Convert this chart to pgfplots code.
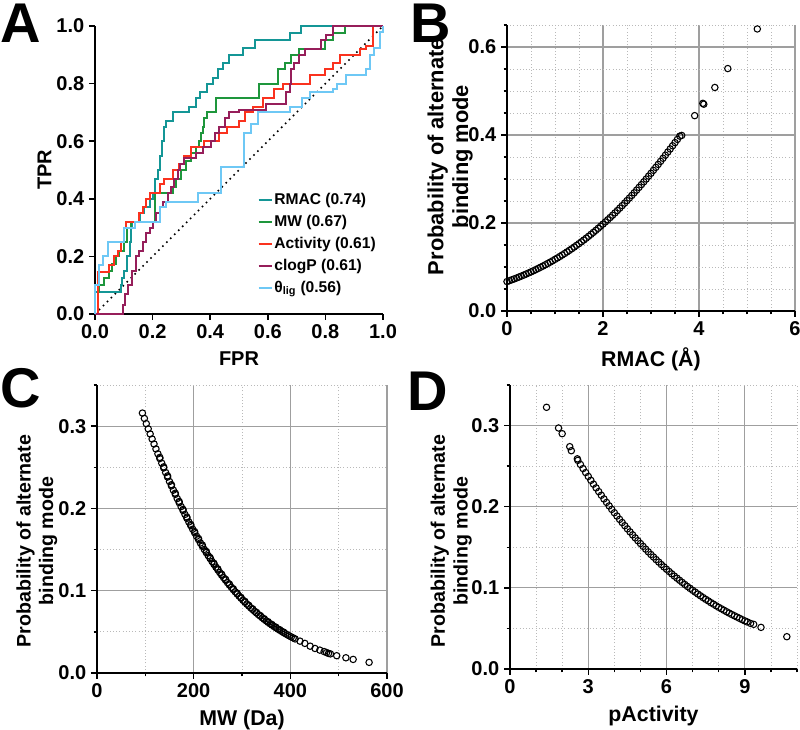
\documentclass[border=0pt]{standalone}
\usepackage{fontspec}
\setmainfont{Liberation Sans}
\usepackage{pgfplots}
\pgfplotsset{compat=1.18}

\definecolor{cRMAC}{RGB}{20,150,150}
\definecolor{cMW}{RGB}{30,150,60}
\definecolor{cAct}{RGB}{250,50,30}
\definecolor{cclogP}{RGB}{150,30,90}
\definecolor{ctheta}{RGB}{110,200,245}

\pgfplotsset{
 myaxis/.style={
  scale only axis,
  axis lines=left,
  axis line style={-, line width=1.4pt},
  tick align=outside,
  major tick length=4.5pt,
  minor tick length=2.5pt,
  every tick/.append style={black, line width=1.1pt},
  tick label style={font=\fontsize{15}{18}\selectfont\bfseries},
  /pgf/number format/assume math mode=true,
  label style={font=\fontsize{16}{19}\selectfont\bfseries},
  clip=false,
 },
 scat/.style={
  myaxis,
  grid=both,
  major grid style={gray!75, line width=0.8pt},
  minor grid style={gray!55, line width=0.6pt, dash pattern=on 0.8pt off 1.6pt},
  ylabel style={align=center, font=\fontsize{14.7}{17}\selectfont\bfseries},
  ylabel={Probability of alternate\\binding mode},
  yticklabel style={/pgf/number format/fixed, /pgf/number format/fixed zerofill, /pgf/number format/precision=1},
  xlabel style={yshift=-2pt},
 },
 dots/.style={only marks, mark=o, mark size=2.4pt, mark options={line width=0.8pt, black}},
 roc/.style={const plot, line width=1.5pt},
}

\begin{document}
\begin{tikzpicture}
\useasboundingbox (0pt,0pt) rectangle (600pt,547.5pt);

% ---------------- Panel A ----------------
\begin{axis}[myaxis, at={(71.25pt,312pt)}, anchor=south west,
  width=216pt, height=216pt,
  xmin=0, xmax=1, ymin=0, ymax=1,
  xtick={0,0.2,0.4,0.6,0.8,1}, ytick={0,0.2,0.4,0.6,0.8,1},
  xticklabel style={/pgf/number format/fixed, /pgf/number format/fixed zerofill, /pgf/number format/precision=1},
  yticklabel style={/pgf/number format/fixed, /pgf/number format/fixed zerofill, /pgf/number format/precision=1},
  label style={font=\fontsize{15}{18}\selectfont\bfseries},
  xlabel={FPR}, ylabel={TPR},
  xlabel style={yshift=-3pt},
  ylabel style={at={(ticklabel cs:0.5,-3pt)}},
  legend cell align=left,
  legend image code/.code={\draw[#1] (0pt,0pt) -- (10pt,0pt);},
  legend style={draw=none, fill=none, at={(rel axis cs:0.55,0.435)}, anchor=north west,
    font=\fontsize{11.7}{14}\selectfont\bfseries, row sep=3.5pt,
    nodes={inner sep=1pt, text height=8.5pt, text depth=2.5pt}},
]
\addplot[black, line width=1.2pt, dash pattern=on 1.2pt off 3pt, forget plot] coordinates {(0,0) (1,1)};
\addplot[roc, cRMAC] coordinates {
(0,0) (0,0.075) (0.09,0.1) (0.095,0.125) (0.10,0.15) (0.11,0.2) (0.12,0.25) (0.125,0.3) (0.13,0.32)
(0.155,0.35) (0.17,0.37) (0.19,0.4) (0.2,0.42) (0.21,0.47) (0.22,0.5) (0.225,0.55) (0.233,0.6)
(0.24,0.65) (0.247,0.67) (0.27,0.7) (0.328,0.72) (0.35,0.75) (0.363,0.77) (0.39,0.8) (0.41,0.82)
(0.426,0.85) (0.444,0.87) (0.467,0.9) (0.513,0.925) (0.554,0.95) (0.676,0.975) (0.716,1.0) (1,1)};
\addlegendentry{RMAC (0.74)}
\addplot[roc, cMW] coordinates {
(0,0) (0.01,0.075) (0.015,0.1) (0.03,0.125) (0.05,0.15) (0.06,0.175) (0.073,0.2) (0.085,0.22)
(0.1,0.25) (0.11,0.3) (0.125,0.32) (0.21,0.42) (0.27,0.44) (0.28,0.47) (0.3,0.5) (0.316,0.53)
(0.334,0.56) (0.35,0.58) (0.36,0.6) (0.367,0.63) (0.374,0.65) (0.38,0.68) (0.39,0.7) (0.42,0.75)
(0.571,0.8) (0.635,0.85) (0.658,0.87) (0.68,0.9) (0.71,0.92) (0.797,0.95) (0.826,0.975) (0.867,1.0) (1,1)};
\addlegendentry{MW (0.67)}
\addplot[roc, cAct] coordinates {
(0,0) (0.01,0.145) (0.05,0.17) (0.067,0.2) (0.08,0.22) (0.09,0.25) (0.1,0.3) (0.108,0.32)
(0.154,0.35) (0.166,0.37) (0.177,0.4) (0.19,0.42) (0.224,0.45) (0.24,0.47) (0.27,0.5) (0.29,0.52)
(0.31,0.55) (0.334,0.58) (0.38,0.6) (0.432,0.63) (0.46,0.65) (0.5,0.67) (0.52,0.7) (0.55,0.72)
(0.583,0.75) (0.62,0.78) (0.652,0.8) (0.745,0.83) (0.8,0.85) (0.826,0.87) (0.85,0.9) (0.92,0.92)
(0.94,0.93) (0.965,1.0) (1,1)};
\addlegendentry{Activity (0.61)}
\addplot[roc, cclogP] coordinates {
(0,0) (0.096,0.03) (0.105,0.07) (0.114,0.1) (0.13,0.15) (0.142,0.2) (0.154,0.22) (0.166,0.25)
(0.177,0.28) (0.19,0.3) (0.2,0.32) (0.212,0.35) (0.224,0.37) (0.235,0.39) (0.253,0.42) (0.264,0.44)
(0.276,0.47) (0.287,0.5) (0.295,0.52) (0.31,0.54) (0.35,0.56) (0.374,0.58) (0.403,0.6) (0.415,0.63)
(0.432,0.65) (0.45,0.68) (0.467,0.7) (0.5,0.71) (0.594,0.73) (0.664,0.77) (0.676,0.8) (0.68,0.85)
(0.69,0.87) (0.71,0.9) (0.728,0.92) (0.786,0.95) (0.803,0.97) (0.826,1.0) (1,1)};
\addlegendentry{clogP (0.61)}
\addplot[roc, ctheta] coordinates {
(0,0) (0,0.1) (0.015,0.17) (0.027,0.2) (0.044,0.25) (0.102,0.3) (0.14,0.32) (0.224,0.37)
(0.247,0.39) (0.357,0.42) (0.438,0.51) (0.519,0.63) (0.54,0.66) (0.565,0.7) (0.676,0.72)
(0.72,0.75) (0.745,0.77) (0.826,0.78) (0.84,0.8) (0.872,0.83) (0.942,0.85) (0.955,0.9)
(0.97,0.925) (0.988,0.98) (1,1)};
\addlegendentry{θ\textsubscript{lig} (0.56)}
\end{axis}

% ---------------- Panel B ----------------
\begin{axis}[scat, at={(380.25pt,314.25pt)}, anchor=south west,
  width=216pt, height=214.5pt,
  xmin=0, xmax=6, ymin=0, ymax=0.65,
  xtick={0,2,4,6}, ytick={0,0.2,0.4,0.6},
  minor xtick={0.5,1,1.5,2.5,3,3.5,4.5,5,5.5},
  minor ytick={0.05,0.1,0.15,0.25,0.3,0.35,0.45,0.5,0.55,0.65},
  xlabel={RMAC (Å)},
  ylabel style={font=\fontsize{16.4}{18.5}\selectfont\bfseries, at={(ticklabel cs:0.54,-10pt)}},
]
\addplot[dots] table {
x y
0.00 0.0669
0.05 0.0689
0.10 0.0709
0.15 0.0729
0.20 0.0750
0.25 0.0772
0.30 0.0794
0.35 0.0817
0.40 0.0840
0.45 0.0865
0.50 0.0889
0.55 0.0914
0.60 0.0940
0.65 0.0967
0.70 0.0994
0.75 0.1022
0.80 0.1051
0.85 0.1080
0.90 0.1110
0.95 0.1141
1.00 0.1173
1.05 0.1205
1.10 0.1238
1.15 0.1272
1.20 0.1306
1.25 0.1342
1.30 0.1378
1.35 0.1415
1.40 0.1453
1.45 0.1492
1.50 0.1531
1.55 0.1572
1.60 0.1613
1.65 0.1655
1.70 0.1698
1.75 0.1742
1.80 0.1787
1.85 0.1832
1.90 0.1879
1.95 0.1926
2.00 0.1975
2.05 0.2024
2.10 0.2074
2.15 0.2125
2.20 0.2177
2.25 0.2230
2.30 0.2284
2.35 0.2339
2.40 0.2395
2.45 0.2451
2.50 0.2509
2.55 0.2567
2.60 0.2626
2.65 0.2686
2.70 0.2747
2.75 0.2809
2.80 0.2872
2.85 0.2935
2.90 0.2999
2.95 0.3065
3.00 0.3130
3.05 0.3197
3.10 0.3264
3.15 0.3332
3.20 0.3401
3.25 0.3471
3.30 0.3541
3.35 0.3612
3.40 0.3683
3.45 0.3755
3.50 0.3827
3.55 0.3900
3.60 0.3974
3.64 0.3990
3.91 0.4440
4.08 0.4720
4.10 0.4700
4.33 0.5080
4.60 0.5510
5.215 0.6410
};
\end{axis}

% ---------------- Panel C ----------------
\begin{axis}[scat, at={(72.75pt,42.75pt)}, anchor=south west,
  width=217.5pt, height=216pt,
  xmin=0, xmax=600, ymin=0, ymax=0.35,
  xtick={0,200,400,600}, ytick={0,0.1,0.2,0.3},
  minor xtick={100,300,500},
  minor ytick={0.05,0.15,0.25,0.35},
  xlabel={MW (Da)},
  ylabel style={at={(ticklabel cs:0.458,-6pt)}},
]
\addplot[dots] table {
x y
94 0.3159
98 0.3094
102 0.3030
106 0.2967
110 0.2905
114 0.2844
118 0.2783
122 0.2723
126 0.2664
130 0.2606
134 0.2549
138 0.2492
142 0.2436
146 0.2381
150 0.2327
154 0.2274
158 0.2222
162 0.2171
166 0.2120
170 0.2070
174 0.2022
178 0.1974
182 0.1927
186 0.1880
190 0.1835
194 0.1790
198 0.1747
202 0.1704
206 0.1662
210 0.1621
214 0.1580
218 0.1541
222 0.1502
226 0.1464
230 0.1427
234 0.1391
238 0.1355
242 0.1321
246 0.1287
250 0.1253
254 0.1221
258 0.1189
262 0.1158
266 0.1128
270 0.1098
274 0.1069
278 0.1041
282 0.1013
286 0.0986
290 0.0960
294 0.0934
298 0.0909
302 0.0884
306 0.0861
310 0.0837
314 0.0815
318 0.0792
322 0.0771
326 0.0750
330 0.0729
334 0.0709
338 0.0690
342 0.0671
346 0.0652
350 0.0634
354 0.0616
358 0.0599
362 0.0583
366 0.0566
370 0.0551
374 0.0535
378 0.0520
382 0.0506
386 0.0491
390 0.0478
394 0.0464
398 0.0451
402 0.0438
406 0.0426
410 0.0414
420 0.0387
430 0.0360
441 0.0326
451 0.0298
461 0.0278
470 0.0260
475 0.0248
479 0.0238
483 0.0232
496 0.0210
515 0.0185
530 0.0165
563 0.0129
};
% second, slightly offset set of compounds that thickens the dense band
\addplot[dots] table {
x y
130 0.2620
138 0.2505
146 0.2395
154 0.2288
162 0.2185
170 0.2084
178 0.1988
186 0.1894
194 0.1804
202 0.1718
210 0.1634
218 0.1554
226 0.1477
234 0.1403
242 0.1333
250 0.1265
258 0.1200
266 0.1139
274 0.1080
282 0.1023
290 0.0970
298 0.0918
306 0.0870
314 0.0823
322 0.0779
330 0.0737
338 0.0697
346 0.0659
354 0.0623
362 0.0589
370 0.0557
378 0.0526
386 0.0497
};
\end{axis}

% ---------------- Panel D ----------------
\begin{axis}[scat, at={(382.5pt,45.75pt)}, anchor=south west,
  width=215.25pt, height=213pt,
  xmin=0, xmax=11, ymin=0, ymax=0.35,
  xtick={0,3,6,9}, ytick={0,0.1,0.2,0.3},
  minor xtick={1,2,4,5,7,8,10,11},
  minor ytick={0.05,0.15,0.25,0.35},
  xlabel={pActivity},
  ylabel style={at={(ticklabel cs:0.45,-7pt)}},
]
\addplot[dots] table {
x y
1.40 0.3225
1.86 0.2970
2.00 0.2900
2.29 0.2740
2.35 0.2690
2.58 0.2590
2.6 0.2571
2.7 0.2520
2.8 0.2470
2.9 0.2421
3.0 0.2373
3.1 0.2325
3.2 0.2278
3.3 0.2232
3.4 0.2186
3.5 0.2141
3.6 0.2096
3.7 0.2053
3.8 0.2010
3.9 0.1967
4.0 0.1926
4.1 0.1885
4.2 0.1844
4.3 0.1805
4.4 0.1766
4.5 0.1727
4.6 0.1690
4.7 0.1653
4.8 0.1616
4.9 0.1581
5.0 0.1546
5.1 0.1511
5.2 0.1477
5.3 0.1444
5.4 0.1411
5.5 0.1380
5.6 0.1348
5.7 0.1318
5.8 0.1287
5.9 0.1258
6.0 0.1229
6.1 0.1201
6.2 0.1173
6.3 0.1145
6.4 0.1119
6.5 0.1093
6.6 0.1067
6.7 0.1042
6.8 0.1017
6.9 0.0993
7.0 0.0970
7.1 0.0947
7.2 0.0924
7.3 0.0902
7.4 0.0880
7.5 0.0859
7.6 0.0839
7.7 0.0818
7.8 0.0799
7.9 0.0779
8.0 0.0760
8.1 0.0742
8.2 0.0724
8.3 0.0706
8.4 0.0689
8.5 0.0672
8.6 0.0656
8.7 0.0640
8.8 0.0624
8.9 0.0608
9.0 0.0593
9.09 0.0580
9.22 0.0562
9.34 0.0550
9.62 0.0513
10.61 0.0398
};
\end{axis}

% panel letters
\node[font=\fontsize{42}{42}\selectfont\bfseries, anchor=base west, inner sep=0pt] at (0.5pt,515.25pt) {A};
\node[font=\fontsize{42}{42}\selectfont\bfseries, anchor=base west, inner sep=0pt] at (307.5pt,515.25pt) {B};
\node[font=\fontsize{42}{42}\selectfont\bfseries, anchor=base west, inner sep=0pt] at (0.5pt,241.5pt) {C};
\node[font=\fontsize{42}{42}\selectfont\bfseries, anchor=base west, inner sep=0pt] at (305.25pt,239.25pt) {D};
\end{tikzpicture}
\end{document}
